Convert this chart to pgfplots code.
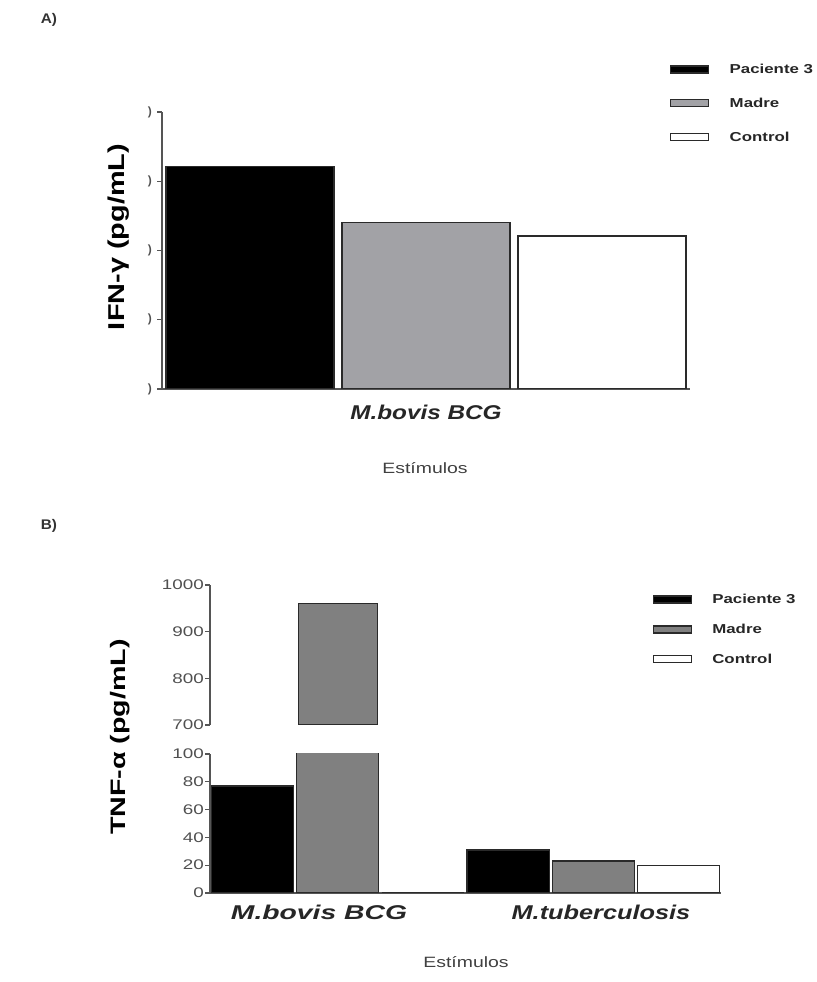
\documentclass[border=0pt]{standalone}
\usepackage{pgfplots}
\pgfplotsset{compat=1.18}
\usepackage{fontspec}
\setmainfont{Liberation Sans}
\usepackage{graphicx}
\newcommand{\hs}[2][1.25]{\scalebox{#1}[1]{#2}}
\definecolor{grayA}{HTML}{A2A2A6}
\definecolor{grayB}{HTML}{808080}
\definecolor{edge}{HTML}{2A2A2A}
\definecolor{axisc}{HTML}{555555}
\definecolor{tickc}{HTML}{505050}

\pgfplotsset{
  common/.style={
    scale only axis,
    axis line style={axisc, line width=1.6bp},
    tick style={axisc, line width=1.2bp},
    major tick length=5bp,
    tick align=outside,
    yticklabel style={font=\fontsize{14}{14}\selectfont, text=tickc, inner sep=1bp},
    ybar,
    legend cell align=left,
    legend style={draw=none, fill=none, font=\fontsize{13}{13}\selectfont\bfseries, text=black!85,
      anchor=north west, inner xsep=0pt},
    legend image code/.code={\draw[##1, line width=1.2bp] (0bp,-3.5bp) rectangle (38bp,3.5bp);
      \path[draw=none, fill=none] (0bp,0bp) -- (57bp,0bp);},
  },
}

\begin{document}
\begin{tikzpicture}[x=1bp,y=1bp]
\useasboundingbox (0,0) rectangle (817,982);

% ---------------- Panel A ----------------
\node[font=\fontsize{14}{14}\selectfont\bfseries, text=black!80] at (49,962) {\hs[1.1]{A)}};
\begin{axis}[common,
  at={(162bp,593bp)}, anchor=south west,
  width=528bp, height=277bp,
  xmin=-0.5, xmax=2.5, ymin=0, ymax=4,
  axis x line*=bottom, axis y line*=left,
  ytick={0,1,2,3,4}, yticklabels={{)},{)},{)},{)},{)}},
  yticklabel style={font=\fontsize{12}{12}\selectfont\bfseries, text=tickc, xshift=-4bp},
  xtick={1}, xticklabels={\hs[1.22]{\textbf{\textit{M.bovis BCG}}}},
  xticklabel style={font=\fontsize{20}{20}\selectfont, text=black!85, yshift=-8bp},
  x tick style={draw=none},
  legend style={at={(0.962,1.188)}, row sep=19bp},
]
\addplot[fill=black, draw=edge, line width=1.2bp, bar width=0.955, bar shift=0pt] coordinates {(0,3.21)};
\addplot[fill=grayA, draw=edge, line width=1.2bp, bar width=0.955, bar shift=0pt] coordinates {(1,2.40)};
\addplot[fill=white, draw=edge, line width=1.2bp, bar width=0.955, bar shift=0pt] coordinates {(2,2.21)};
\legend{\hs[1.3]{Paciente 3},\hs[1.3]{Madre},\hs[1.3]{Control}}
\end{axis}
\node[rotate=90, font=\fontsize{23}{23}\selectfont\bfseries] at (119,745) {\hs[1.26]{IFN-γ (pg/mL)}};
\node[font=\fontsize{15}{15}\selectfont, text=black!75] at (425,514) {\hs[1.3]{Estímulos}};

% ---------------- Panel B ----------------
\node[font=\fontsize{14}{14}\selectfont\bfseries, text=black!80] at (49,456) {\hs[1.1]{B)}};
% upper part
\begin{axis}[common,
  at={(210bp,257bp)}, anchor=south west,
  width=511bp, height=140bp,
  xmin=-0.5, xmax=5.5, ymin=700, ymax=1000,
  axis y line*=left, axis x line=none,
  ytick={700,800,900,1000}, yticklabels={\hs[1.35]{700},\hs[1.35]{800},\hs[1.35]{900},\hs[1.35]{1000}},
]
\addplot[fill=grayB, draw=edge, line width=1.2bp, bar width=0.93, bar shift=0pt] coordinates {(1,960)};
\end{axis}
% lower part
\begin{axis}[common,
  at={(210bp,89bp)}, anchor=south west,
  width=511bp, height=139bp,
  xmin=-0.5, xmax=5.5, ymin=0, ymax=100,
  axis x line*=bottom, axis y line*=left,
  ytick={0,20,40,60,80,100}, yticklabels={\hs[1.35]{0},\hs[1.35]{20},\hs[1.35]{40},\hs[1.35]{60},\hs[1.35]{80},\hs[1.35]{100}},
  xtick={0.78,4.09}, xticklabels={\hs[1.42]{\textbf{\textit{M.bovis BCG}}},\hs[1.27]{\textbf{\textit{M.tuberculosis}}}},
  xticklabel style={font=\fontsize{20}{20}\selectfont, text=black!85, yshift=-4bp},
  x tick style={draw=none},
  legend style={at={(0.866,2.18)}, row sep=15bp},
]
\addplot[fill=black, draw=edge, line width=1.2bp, bar width=0.965, bar shift=0pt] coordinates {(0,77) (3,31)};
\addplot[fill=grayB, draw=edge, line width=1.2bp, bar width=0.965, bar shift=0pt] coordinates {(1,960) (4,23)};
\addplot[fill=white, draw=edge, line width=1.2bp, bar width=0.965, bar shift=0pt] coordinates {(2,0) (5,20)};
\legend{\hs[1.3]{Paciente 3},\hs[1.3]{Madre},\hs[1.3]{Control}}
\end{axis}
\node[rotate=90, font=\fontsize{21}{21}\selectfont\bfseries] at (120,245) {\hs[1.37]{TNF-α (pg/mL)}};
\node[font=\fontsize{15}{15}\selectfont, text=black!75] at (466,20) {\hs[1.3]{Estímulos}};
\end{tikzpicture}
\end{document}
